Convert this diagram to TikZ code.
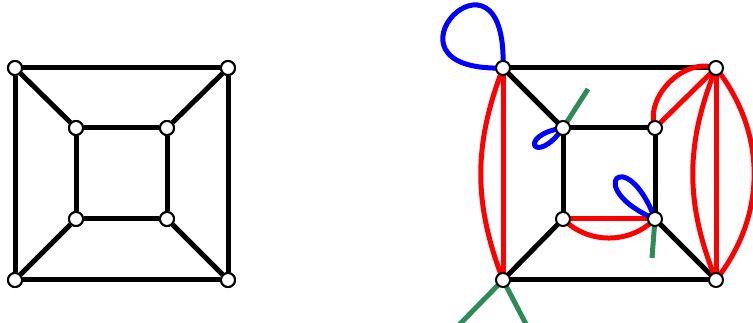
\documentclass[tikz,border=0pt]{standalone}
\begin{document}
\begin{tikzpicture}[x=1pt,y=-1pt,
  vtx/.style={circle,draw=black,fill=white,line width=2pt,minimum size=14pt,inner sep=0pt},
  blk/.style={draw=black,line width=5pt},
  redge/.style={draw=red,line width=5pt},
  bedge/.style={draw=blue,line width=5pt},
  gedge/.style={draw=gcol,line width=5pt}]
\definecolor{gcol}{RGB}{46,139,87}
\useasboundingbox (0,0) rectangle (753,323);
% left graph
\node[vtx] (a1) at (15,68) {};
\node[vtx] (a2) at (228,68) {};
\node[vtx] (a3) at (15,280) {};
\node[vtx] (a4) at (228,280) {};
\node[vtx] (b1) at (76,128) {};
\node[vtx] (b2) at (167,128) {};
\node[vtx] (b3) at (76,219) {};
\node[vtx] (b4) at (167,219) {};
% right graph coordinates
\coordinate (P1) at (503,68);
\coordinate (P2) at (716,68);
\coordinate (P3) at (503,280);
\coordinate (P4) at (716,280);
\coordinate (Q1) at (563,128);
\coordinate (Q2) at (655,128);
\coordinate (Q3) at (563,219);
\coordinate (Q4) at (655,219);
\coordinate (g1) at (588,89);
\coordinate (g2) at (652,258);
\coordinate (g3) at (458,326);
\coordinate (g4) at (527,326);
% left edges
\path[blk] (a1) -- (a2) -- (a4) -- (a3) -- (a1);
\path[blk] (b1) -- (b2) -- (b4) -- (b3) -- (b1);
\path[blk] (a1) -- (b1) (a2) -- (b2) (a3) -- (b3) (a4) -- (b4);
% green
\path[gedge] (Q1) -- (g1);
\path[gedge] (Q4) -- (g2);
\path[gedge] (P3) -- (g3);
\path[gedge] (P3) -- (g4);
% black right
\path[blk] (P1) -- (P2) (P3) -- (P4);
\path[blk] (P1) -- (Q1) (P3) -- (Q3) (P4) -- (Q4);
\path[blk] (Q1) -- (Q2) -- (Q4) (Q1) -- (Q3);
% red
\path[redge] (P1) -- (P3);
\path[redge] (P1) to[bend right=21] (P3);
\path[redge] (P2) -- (P4);
\path[redge] (P2) to[bend right=22] (P4);
\path[redge] (P2) to[bend left=38] (P4);
\path[redge] (P2) -- (Q2);
\path[redge] (P2) to[bend right=64] (Q2);
\path[redge] (Q3) -- (Q4);
\path[redge] (Q3) to[bend right=45] (Q4);
% blue loops
\path[bedge] (P1) .. controls (508,-76) and (365,72) .. (P1);
\path[bedge] (Q1) .. controls (516,135) and (535,168) .. (Q1);
\path[bedge] (Q4) .. controls (582,188) and (626,142) .. (Q4);
% right nodes
\node[vtx] (r1) at (P1) {};
\node[vtx] (r2) at (P2) {};
\node[vtx] (r3) at (P3) {};
\node[vtx] (r4) at (P4) {};
\node[vtx] (s1) at (Q1) {};
\node[vtx] (s2) at (Q2) {};
\node[vtx] (s3) at (Q3) {};
\node[vtx] (s4) at (Q4) {};
% left nodes on top of their edges
\node[vtx] at (a1) {};
\node[vtx] at (a2) {};
\node[vtx] at (a3) {};
\node[vtx] at (a4) {};
\node[vtx] at (b1) {};
\node[vtx] at (b2) {};
\node[vtx] at (b3) {};
\node[vtx] at (b4) {};
\end{tikzpicture}
\end{document}
